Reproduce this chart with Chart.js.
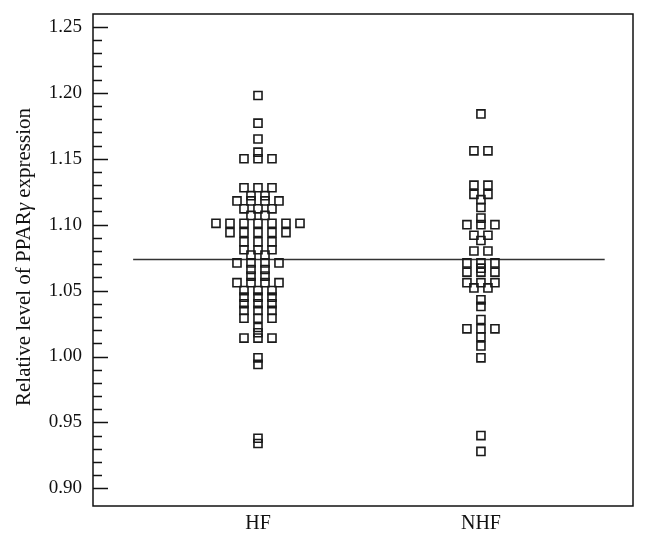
<!DOCTYPE html>
<html><head><meta charset="utf-8">
<script src="https://cdn.jsdelivr.net/npm/chart.js@4.4.0/dist/chart.umd.min.js"></script>
<style>html,body{margin:0;padding:0;background:#fff;}#wrap{width:658px;height:544px;}</style>
</head><body><div id="wrap"><canvas id="c" width="658" height="544"></canvas></div>
<script>
const categories = ['HF', 'NHF'];
const hfValues = [
  1.198, 1.177, 1.165, 1.155, 1.150, 1.150, 1.150,
  1.128, 1.128, 1.128, 1.122, 1.122, 1.118, 1.118, 1.118, 1.118,
  1.112, 1.112, 1.112, 1.107, 1.107,
  1.101, 1.101, 1.101, 1.101, 1.101, 1.101, 1.101,
  1.094, 1.094, 1.094, 1.094, 1.094, 1.087, 1.087, 1.087,
  1.081, 1.081, 1.081, 1.077, 1.077, 1.071, 1.071, 1.071, 1.071,
  1.066, 1.066, 1.061, 1.061, 1.056, 1.056, 1.056, 1.056,
  1.050, 1.050, 1.050, 1.045, 1.045, 1.045, 1.040, 1.040, 1.040,
  1.035, 1.035, 1.035, 1.029, 1.029, 1.029, 1.022, 1.018,
  1.014, 1.014, 1.014, 0.999, 0.994, 0.938, 0.934
];
const nhfValues = [
  1.184, 1.156, 1.156, 1.130, 1.130, 1.123, 1.123, 1.119, 1.113,
  1.105, 1.100, 1.100, 1.100, 1.092, 1.092, 1.088, 1.080, 1.080,
  1.071, 1.071, 1.071, 1.067, 1.064, 1.064, 1.064,
  1.056, 1.056, 1.056, 1.052, 1.052, 1.043, 1.038, 1.028,
  1.021, 1.021, 1.021, 1.015, 1.008, 0.999, 0.940, 0.928
];
const meanValue = 1.0735;
const yMajorTicks = [0.90, 0.95, 1.00, 1.05, 1.10, 1.15, 1.20, 1.25];
const yMinorTicks = [0.91,0.92,0.93,0.94,0.96,0.97,0.98,0.99,1.01,1.02,1.03,1.04,1.06,1.07,1.08,1.09,1.11,1.12,1.13,1.14,1.16,1.17,1.18,1.19,1.21,1.22,1.23,1.24];
const yTitleParts = [['Relative level of PPAR', 'normal'], ['\u03B3', 'italic'], [' expression', 'normal']];

const SPREAD = 0.0628;   // horizontal step between tied values (x-scale units)
const FONT = '"Liberation Serif", "DejaVu Serif", serif';

function swarm(values, catPos) {
  const groups = new Map();
  values.forEach(v => {
    const k = v.toFixed(4);
    if (!groups.has(k)) groups.set(k, []);
    groups.get(k).push(v);
  });
  const pts = [];
  groups.forEach(arr => {
    const n = arr.length;
    arr.forEach((v, i) => pts.push({x: catPos + (i - (n - 1) / 2) * SPREAD, y: v}));
  });
  return pts;
}

const framePlugin = {
  id: 'frame',
  afterDraw(chart) {
    const {ctx, chartArea: a, scales: {y}} = chart;
    ctx.save();
    ctx.strokeStyle = '#111';
    ctx.lineWidth = 1.5;
    ctx.strokeRect(a.left, a.top, a.right - a.left, a.bottom - a.top);
    ctx.beginPath();
    yMajorTicks.forEach(v => { const py = Math.round(y.getPixelForValue(v)) + 0.5; ctx.moveTo(a.left, py); ctx.lineTo(a.left + 15, py); });
    yMinorTicks.forEach(v => { const py = Math.round(y.getPixelForValue(v)) + 0.5; ctx.moveTo(a.left, py); ctx.lineTo(a.left + 9, py); });
    ctx.stroke();
    // y-axis title with italic gamma
    ctx.translate(24, (a.top + a.bottom) / 2 - 3);
    ctx.rotate(-Math.PI / 2);
    ctx.fillStyle = '#111';
    ctx.textBaseline = 'middle';
    let total = 0;
    const widths = yTitleParts.map(([t, st]) => { ctx.font = st + ' 21px ' + FONT; const w = ctx.measureText(t).width; total += w; return w; });
    let x0 = -total / 2;
    yTitleParts.forEach(([t, st], i) => { ctx.font = st + ' 21px ' + FONT; ctx.textAlign = 'left'; ctx.fillText(t, x0, 0); x0 += widths[i]; });
    ctx.restore();
  }
};

const pointStyleOpts = {
  type: 'scatter', pointStyle: 'rect', pointRadius: 5.7, pointHoverRadius: 5.7,
  pointBorderColor: '#1a1a1a', pointBackgroundColor: 'rgba(0,0,0,0)', pointBorderWidth: 1.6,
  showLine: false
};

new Chart(document.getElementById('c'), {
  type: 'scatter',
  data: {
    datasets: [
      {label: 'mean', type: 'line', data: [{x: 0.44, y: meanValue}, {x: 2.555, y: meanValue}],
       borderColor: '#333', borderWidth: 1.5, pointRadius: 0, order: 2},
      Object.assign({label: categories[0], data: swarm(hfValues, 1), order: 1}, pointStyleOpts),
      Object.assign({label: categories[1], data: swarm(nhfValues, 2), order: 1}, pointStyleOpts)
    ]
  },
  options: {
    responsive: false, animation: false, devicePixelRatio: 1,
    layout: {padding: {left: 0, top: 14, right: 25, bottom: 0}},
    plugins: {legend: {display: false}, tooltip: {enabled: false}},
    scales: {
      x: {
        type: 'linear', min: 0.26, max: 2.682,
        grid: {display: false, drawTicks: false}, border: {display: false},
        afterBuildTicks: s => { s.ticks = [{value: 1}, {value: 2}]; },
        afterFit: s => { s.height = 38; s.paddingLeft = 0; s.paddingRight = 0; },
        ticks: {callback: v => categories[v - 1], font: {family: FONT, size: 20}, color: '#111', padding: 6, maxRotation: 0}
      },
      y: {
        type: 'linear', min: 0.8866, max: 1.2598,
        grid: {display: false, drawTicks: false}, border: {display: false},
        afterBuildTicks: s => { s.ticks = yMajorTicks.map(v => ({value: v})); },
        afterFit: s => { s.width = 93; s.paddingTop = 0; s.paddingBottom = 0; },
        ticks: {callback: v => v.toFixed(2), font: {family: FONT, size: 19}, color: '#111', padding: 11}
      }
    }
  },
  plugins: [framePlugin]
});
</script></body></html>
